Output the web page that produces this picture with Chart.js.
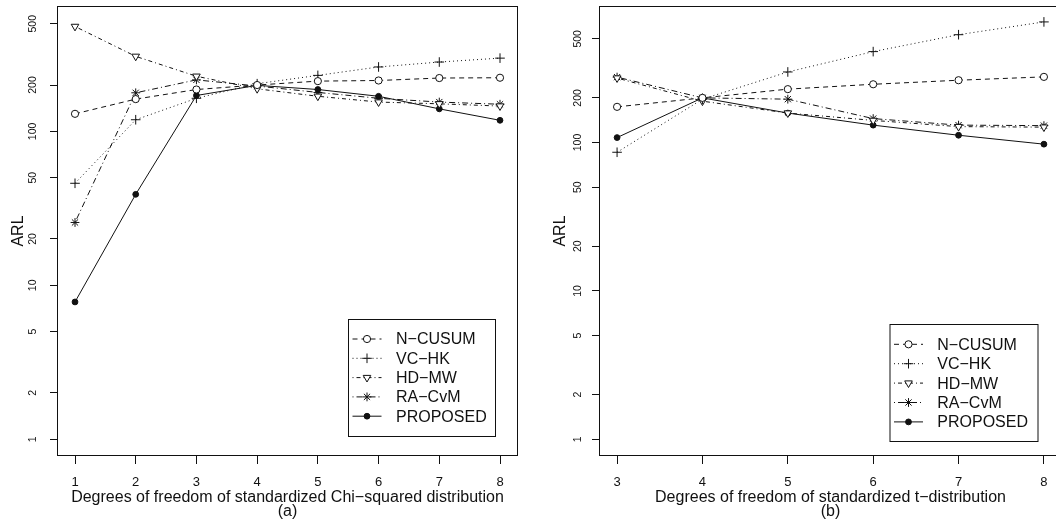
<!DOCTYPE html>
<html><head><meta charset="utf-8">
<script src="https://cdn.jsdelivr.net/npm/chart.js@4.4.1/dist/chart.umd.min.js"></script>
<style>
html,body{margin:0;padding:0;background:#fff;overflow:hidden;width:1056px;height:523px;}
canvas{position:absolute;top:0;}
#c1{left:0;} #c2{left:528px;}
</style></head><body>
<canvas id="c1" width="528" height="523"></canvas>
<canvas id="c2" width="540" height="523"></canvas>
<script>
// ---------- data ----------
const seriesNames = ['N\u2212CUSUM', 'VC\u2212HK', 'HD\u2212MW', 'RA\u2212CvM', 'PROPOSED'];

const chiDf = [1, 2, 3, 4, 5, 6, 7, 8];
const ncusumChi   = [130, 162, 187, 200, 212, 214, 222, 223];
const vchkChi     = [46, 119, 164, 204, 231, 262, 282, 299];
const hdmwChi     = [480, 307, 228, 189, 169, 155, 151, 146];
const racvmChi    = [25.6, 178, 216, 197, 179, 164, 155, 150];
const proposedChi = [7.8, 39, 171, 199, 187, 169, 140, 118];

const tDf = [3, 4, 5, 6, 7, 8];
const ncusumT   = [174, 200, 229, 247, 263, 277];
const vchkT     = [86, 196, 299, 410, 533, 650];
const hdmwT     = [272, 190, 158, 141, 128, 127];
const racvmT    = [276, 200, 196, 145, 131, 130];
const proposedT = [108, 200, 158, 131, 112, 97.5];

const yTicks = [1, 2, 5, 10, 20, 50, 100, 200, 500];
const yTickLabels = ['1', '2', '5', '10', '20', '50', '100', '200', '500'];

const titleChi = ['Degrees of freedom of standardized Chi\u2212squared distribution', '(a)'];
const titleT = ['Degrees of freedom of standardized t\u2212distribution', '(b)'];
const yTitle = 'ARL';

// ---------- styles ----------
const FONT = '"Liberation Sans", Arial, Helvetica, sans-serif';
const INK = '#111';
Chart.defaults.font.family = FONT;
Chart.defaults.color = INK;

const styles = [
  { dash: [5, 4], pointStyle: 'circle', radius: 3.6, fill: '#fff', rotation: 0 },
  { dash: [1, 3], pointStyle: 'cross', radius: 4.8, fill: 'rgba(0,0,0,0)', rotation: 0 },
  { dash: [1, 3, 4, 3], pointStyle: 'triangle', radius: 4.4, fill: '#fff', rotation: 180 },
  { dash: [1, 3, 6, 3], pointStyle: 'star', radius: 4.4, fill: 'rgba(0,0,0,0)', rotation: 0 },
  { dash: [], pointStyle: 'circle', radius: 2.9, fill: '#111', rotation: 0 }
];

function makeDatasets(xs, seriesList) {
  return seriesList.map((vals, i) => ({
    label: seriesNames[i],
    data: xs.map((x, j) => ({ x: x, y: vals[j] })),
    borderColor: INK,
    borderWidth: 1,
    borderDash: styles[i].dash,
    pointStyle: styles[i].pointStyle,
    pointRadius: styles[i].radius,
    pointRotation: styles[i].rotation,
    pointBackgroundColor: styles[i].fill,
    pointBorderColor: INK,
    pointBorderWidth: 1,
    tension: 0,
    fill: false
  }));
}

const framePlugin = {
  id: 'frame',
  afterDraw(chart) {
    const ctx = chart.ctx, a = chart.chartArea;
    ctx.save();
    ctx.strokeStyle = INK;
    ctx.lineWidth = 1;
    ctx.setLineDash([]);
    ctx.strokeRect(Math.round(a.left) - 0.5, Math.round(a.top) + 0.5,
                   Math.round(a.right - a.left) + 1, Math.round(a.bottom - a.top) - 1);
    // y tick labels, rotated like R
    const o = chart.options.plugins.rstyle;
    const s = chart.scales.y;
    ctx.fillStyle = INK;
    ctx.font = '10.5px ' + FONT;
    ctx.textAlign = 'center';
    ctx.textBaseline = 'alphabetic';
    yTicks.forEach((v, i) => {
      const y = s.getPixelForValue(v);
      ctx.save();
      ctx.translate(o.yLabelX, y);
      ctx.rotate(-Math.PI / 2);
      ctx.fillText(yTickLabels[i], 0, 0);
      ctx.restore();
    });
    // legend
    const L = o.legend;
    ctx.strokeRect(L.box[0] + 0.5, L.box[1] + 0.5, L.box[2], L.box[3]);
    chart.data.datasets.forEach((ds, i) => {
      const y = L.row0 + i * L.step;
      ctx.save();
      ctx.strokeStyle = INK;
      ctx.lineWidth = 1;
      ctx.setLineDash(ds.borderDash);
      ctx.beginPath();
      ctx.moveTo(L.line0, y);
      ctx.lineTo(L.line1, y);
      ctx.stroke();
      ctx.setLineDash([]);
      ctx.fillStyle = ds.pointBackgroundColor;
      ctx.strokeStyle = INK;
      Chart.helpers.drawPoint(ctx, {
        pointStyle: ds.pointStyle, rotation: ds.pointRotation,
        radius: ds.pointRadius, borderWidth: 1
      }, (L.line0 + L.line1) / 2, y);
      ctx.restore();
      ctx.fillStyle = INK;
      ctx.font = '16px ' + FONT;
      ctx.textAlign = 'left';
      ctx.textBaseline = 'middle';
      ctx.fillText(ds.label, L.text, y + 1);
    });
    ctx.restore();
  }
};

function makeChart(id, xs, seriesList, xMin, xMax, yMin, yMax, title, cfg) {
  return new Chart(document.getElementById(id), {
    type: 'line',
    data: { datasets: makeDatasets(xs, seriesList) },
    options: {
      responsive: false,
      animation: false,
      devicePixelRatio: 1,
      layout: { padding: { top: 6, right: cfg.padRight, bottom: 0, left: 0 } },
      plugins: {
        legend: { display: false },
        tooltip: { enabled: false },
        rstyle: { yLabelX: cfg.yLabelX, legend: cfg.legend }
      },
      scales: {
        x: {
          type: 'linear',
          min: xMin, max: xMax,
          afterBuildTicks: s => { s.ticks = xs.map(v => ({ value: v })); },
          afterFit: s => { s.height = 67; },
          ticks: { font: { size: 13 }, color: INK, padding: 11, autoSkip: false, maxRotation: 0,
                   callback: v => String(v) },
          grid: { display: true, drawOnChartArea: false, drawTicks: true, tickLength: 8,
                  color: INK, tickColor: INK, lineWidth: 1 },
          border: { display: false },
          title: { display: true, text: title, color: INK,
                   font: { size: 16, lineHeight: '14px' }, padding: { top: 0, bottom: 4 } }
        },
        y: {
          type: 'logarithmic',
          min: yMin, max: yMax,
          afterBuildTicks: s => { s.ticks = yTicks.map(v => ({ value: v })); },
          afterFit: s => { s.width = cfg.yWidth; },
          ticks: { display: false },
          grid: { display: true, drawOnChartArea: false, drawTicks: true, tickLength: 8,
                  color: INK, tickColor: INK, lineWidth: 1 },
          border: { display: false },
          title: { display: true, text: yTitle, color: INK,
                   font: { size: 16 }, padding: { top: cfg.yTitlePad, bottom: 0 } }
        }
      }
    },
    plugins: [framePlugin]
  });
}

makeChart('c1', chiDf, [ncusumChi, vchkChi, hdmwChi, racvmChi, proposedChi],
  0.72, 8.28, 0.779, 652, titleChi,
  { padRight: 11, yWidth: 58, yLabelX: 36, yTitlePad: 9.4,
    legend: { box: [348, 319, 147, 117], row0: 339, step: 19.3, line0: 352.5, line1: 381.5, text: 396 } });

makeChart('c2', tDf, [ncusumT, vchkT, hdmwT, racvmT, proposedT],
  2.8, 8.2, 0.772, 832, titleT,
  { padRight: 7, yWidth: 72, yLabelX: 53, yTitlePad: 23,
    legend: { box: [361.5, 324, 148, 117], row0: 344.3, step: 19.4, line0: 366, line1: 395, text: 409.3 } });
</script>
</body></html>
